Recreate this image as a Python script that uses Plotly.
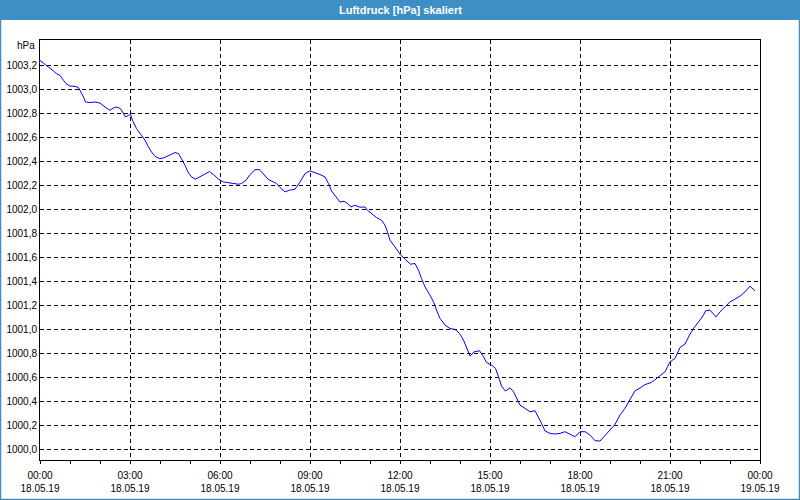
import plotly.graph_objects as go

# time of day in minutes after 00:00 (18.05.19)
minutes = [0, 7, 13, 20, 27, 33, 40, 47, 52, 60, 70, 77, 81, 87, 91, 100, 110, 120, 130, 140,
           147, 153, 161, 167, 171, 177, 181, 185, 193, 203, 210, 217, 223, 230, 239, 247, 257, 260, 270, 277,
           283, 290, 297, 303, 311, 320, 330, 339, 347, 357, 367, 377, 387, 397, 403, 412, 420, 430, 439, 447,
           457, 467, 473, 480, 490, 499, 510, 520, 530, 540, 550, 560, 570, 577, 583, 592, 600, 608, 617, 622,
           630, 640, 650, 655, 663, 673, 683, 690, 695, 700, 710, 720, 730, 741, 750, 757, 763, 770, 780, 787,
           793, 800, 810, 820, 830, 839, 847, 853, 860, 868, 879, 887, 893, 903, 911, 917, 923, 931, 940, 947,
           955, 960, 970, 980, 990, 997, 1003, 1010, 1020, 1030, 1040, 1050, 1060, 1070, 1080, 1090, 1100, 1110, 1120, 1130,
           1140, 1150, 1160, 1170, 1180, 1190, 1200, 1210, 1223, 1233, 1243, 1250, 1260, 1270, 1280, 1290, 1299, 1307, 1317, 1327,
           1331, 1340, 1352, 1360, 1370, 1380, 1390, 1400, 1410, 1420, 1430]

pressure = [1003.244, 1003.222, 1003.203, 1003.183, 1003.155, 1003.133, 1003.119, 1003.078, 1003.050, 1003.030,
            1003.028, 1003.017, 1002.988, 1002.938, 1002.897, 1002.892, 1002.897, 1002.888, 1002.855, 1002.828,
            1002.847, 1002.855, 1002.842, 1002.800, 1002.772, 1002.786, 1002.794, 1002.744, 1002.675, 1002.619,
            1002.578, 1002.522, 1002.480, 1002.444, 1002.425, 1002.430, 1002.450, 1002.458, 1002.475, 1002.467,
            1002.425, 1002.369, 1002.305, 1002.272, 1002.253, 1002.272, 1002.294, 1002.317, 1002.292, 1002.253,
            1002.230, 1002.222, 1002.217, 1002.211, 1002.217, 1002.244, 1002.292, 1002.333, 1002.333, 1002.292,
            1002.250, 1002.230, 1002.217, 1002.183, 1002.147, 1002.161, 1002.169, 1002.230, 1002.300, 1002.322,
            1002.308, 1002.292, 1002.272, 1002.217, 1002.155, 1002.105, 1002.063, 1002.069, 1002.044, 1002.022,
            1002.036, 1002.019, 1002.022, 1001.994, 1001.967, 1001.933, 1001.911, 1001.869, 1001.813, 1001.744,
            1001.688, 1001.628, 1001.586, 1001.544, 1001.550, 1001.494, 1001.425, 1001.355, 1001.286, 1001.230,
            1001.161, 1001.092, 1001.036, 1001.008, 1001.000, 1000.967, 1000.911, 1000.855, 1000.778, 1000.813,
            1000.822, 1000.772, 1000.725, 1000.703, 1000.675, 1000.605, 1000.528, 1000.486, 1000.513, 1000.480,
            1000.417, 1000.369, 1000.342, 1000.313, 1000.322, 1000.272, 1000.217, 1000.153, 1000.133, 1000.128,
            1000.133, 1000.147, 1000.128, 1000.105, 1000.147, 1000.147, 1000.119, 1000.072, 1000.069, 1000.119,
            1000.161, 1000.208, 1000.286, 1000.342, 1000.411, 1000.488, 1000.511, 1000.540, 1000.558, 1000.592,
            1000.619, 1000.647, 1000.730, 1000.758, 1000.850, 1000.878, 1000.953, 1001.008, 1001.063, 1001.119,
            1001.155, 1001.161, 1001.105, 1001.147, 1001.188, 1001.230, 1001.253, 1001.278, 1001.313, 1001.361,
            1001.322]

x_tick_vals = [0, 180, 360, 540, 720, 900, 1080, 1260, 1440]
x_tick_text = ["00:00<br>18.05.19", "03:00<br>18.05.19", "06:00<br>18.05.19", "09:00<br>18.05.19",
               "12:00<br>18.05.19", "15:00<br>18.05.19", "18:00<br>18.05.19", "21:00<br>18.05.19",
               "00:00<br>19.05.19"]
y_tick_vals = [1000.0 + 0.2 * i for i in range(17)]
y_tick_text = [("%.1f" % v).replace(".", ",") for v in y_tick_vals]

W, H = 800, 500
ML, MR, MT, MB = 40, 40, 40, 40
PW, PH = W - ML - MR, H - MT - MB

def px_x(p):
    return (p - ML) / PW

def px_y(p):
    return 1 - (p - MT) / PH

BLUE = "#3d8fc6"
FONT = "Liberation Sans"

fig = go.Figure()
fig.add_trace(go.Scatter(x=minutes, y=pressure, mode="lines",
                         line=dict(color="#0000ff", width=1), hoverinfo="skip"))

fig.update_layout(
    width=W, height=H,
    margin=dict(l=ML, r=MR, t=MT, b=MB, autoexpand=False),
    paper_bgcolor="white", plot_bgcolor="white",
    showlegend=False,
    font=dict(family=FONT, size=10, color="#000000"),
    xaxis=dict(range=[0, 1440], tickvals=x_tick_vals, ticktext=x_tick_text,
               showline=True, linecolor="black", linewidth=1, mirror=True,
               showgrid=True, gridcolor="black", gridwidth=1, griddash="4px,3px",
               ticks="outside", ticklen=3, tickcolor="black", ticklabelstandoff=3,
               minor=dict(dtick=60, tick0=0, ticks="outside", ticklen=3, tickcolor="black", showgrid=False),
               zeroline=False, fixedrange=True, automargin=False),
    yaxis=dict(range=[999.911, 1003.414], tickvals=y_tick_vals, ticktext=y_tick_text,
               showline=True, linecolor="black", linewidth=1, mirror=True,
               showgrid=True, gridcolor="black", gridwidth=1, griddash="4px,3px",
               ticks="", zeroline=False, fixedrange=True, automargin=False),
    shapes=[
        dict(type="rect", xref="paper", yref="paper",
             x0=px_x(0), x1=px_x(W), y0=px_y(20), y1=px_y(0),
             fillcolor=BLUE, line=dict(width=0), layer="above"),
        dict(type="rect", xref="paper", yref="paper",
             x0=px_x(0.5), x1=px_x(W - 0.5), y0=px_y(H - 0.5), y1=px_y(0.5),
             fillcolor="rgba(0,0,0,0)", line=dict(color=BLUE, width=1.5), layer="above"),
    ],
    annotations=[
        dict(text="<b>Luftdruck [hPa] skaliert</b>", xref="paper", yref="paper",
             x=px_x(W / 2), y=px_y(10), xanchor="center", yanchor="middle",
             showarrow=False, font=dict(family=FONT, size=11, color="white")),
        dict(text="hPa", xref="paper", yref="paper", x=0, y=px_y(45.5),
             xanchor="right", yanchor="middle", xshift=-3, showarrow=False,
             font=dict(family=FONT, size=10, color="black")),
    ],
)

fig.write_html("out.html", config={"displayModeBar": False},
               post_script="document.body.style.margin='0';document.body.style.overflow='hidden';")
